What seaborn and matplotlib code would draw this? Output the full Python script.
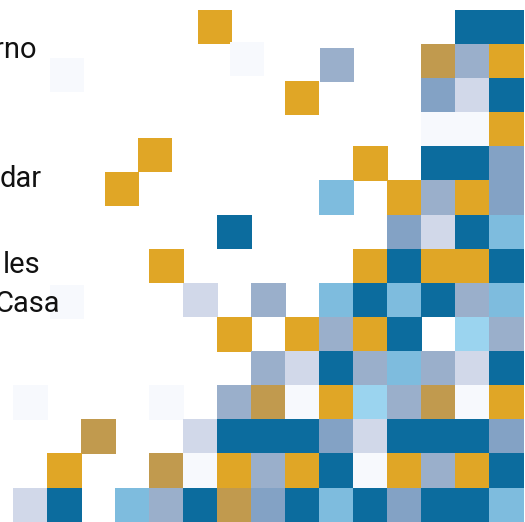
import pandas as pd
import matplotlib
matplotlib.use("Agg")
import matplotlib.pyplot as plt
import seaborn as sns

# colour of each category
palette = {
    "gold": "#e0a626",
    "dark": "#0c6c9e",
    "tan": "#c19a4e",
    "slate": "#9aafcb",
    "steel": "#83a2c5",
    "lav": "#d1d8e9",
    "faint": "#f7f9fd",
    "azure": "#7ebcde",
    "pale": "#9bd4ef",
}

# square positions (column, row), one line per row
cell_x = [5.93, 13.5, 14.5,
          1.57, 6.87, 9.51, 12.5, 13.5, 14.5,
          8.49, 12.5, 13.5, 14.5,
          12.5, 13.5, 14.5,
          4.16, 10.5, 12.5, 13.5, 14.5,
          3.19, 9.5, 11.5, 12.5, 13.5, 14.5,
          6.5, 11.5, 12.5, 13.5, 14.5,
          4.5, 10.5, 11.5, 12.5, 13.5, 14.5,
          1.57, 5.5, 7.5, 9.5, 10.5, 11.5, 12.5, 13.5, 14.5,
          6.5, 8.5, 9.5, 10.5, 11.5, 13.5, 14.5,
          7.5, 8.5, 9.5, 10.5, 11.5, 12.5, 13.5, 14.5,
          0.5, 4.5, 6.5, 7.5, 8.5, 9.5, 10.5, 11.5, 12.5, 13.5, 14.5,
          2.5, 5.5, 6.5, 7.5, 8.5, 9.5, 10.5, 11.5, 12.5, 13.5, 14.5,
          1.5, 4.5, 5.5, 6.5, 7.5, 8.5, 9.5, 10.5, 11.5, 12.5, 13.5, 14.5,
          0.5, 1.5, 3.5, 4.5, 5.5, 6.5, 7.5, 8.5, 9.5, 10.5, 11.5, 12.5, 13.5, 14.5]

cell_y = [0.5, 0.5, 0.5,
          1.91, 1.44, 1.61, 1.5, 1.5, 1.5,
          2.58, 2.5, 2.5, 2.5,
          3.5, 3.5, 3.5,
          4.25, 4.5, 4.5, 4.5, 4.5,
          5.25, 5.5, 5.5, 5.5, 5.5, 5.5,
          6.5, 6.5, 6.5, 6.5, 6.5,
          7.5, 7.5, 7.5, 7.5, 7.5, 7.5,
          8.56, 8.5, 8.5, 8.5, 8.5, 8.5, 8.5, 8.5, 8.5,
          9.5, 9.5, 9.5, 9.5, 9.5, 9.5, 9.5,
          10.5, 10.5, 10.5, 10.5, 10.5, 10.5, 10.5, 10.5,
          11.5, 11.5, 11.5, 11.5, 11.5, 11.5, 11.5, 11.5, 11.5, 11.5, 11.5,
          12.5, 12.5, 12.5, 12.5, 12.5, 12.5, 12.5, 12.5, 12.5, 12.5, 12.5,
          13.5, 13.5, 13.5, 13.5, 13.5, 13.5, 13.5, 13.5, 13.5, 13.5, 13.5, 13.5,
          14.5, 14.5, 14.5, 14.5, 14.5, 14.5, 14.5, 14.5, 14.5, 14.5, 14.5, 14.5, 14.5, 14.5]

cell_kind = ["gold", "dark", "dark",
             "faint", "faint", "slate", "tan", "slate", "gold",
             "gold", "steel", "lav", "dark",
             "faint", "faint", "gold",
             "gold", "gold", "dark", "dark", "steel",
             "gold", "azure", "gold", "slate", "gold", "steel",
             "dark", "steel", "lav", "dark", "azure",
             "gold", "gold", "dark", "gold", "gold", "dark",
             "faint", "lav", "slate", "azure", "dark", "azure", "dark", "slate", "azure",
             "gold", "gold", "slate", "gold", "dark", "pale", "slate",
             "slate", "lav", "dark", "slate", "azure", "slate", "lav", "dark",
             "faint", "faint", "slate", "tan", "faint", "gold", "pale", "slate", "tan", "faint", "gold",
             "tan", "lav", "dark", "dark", "dark", "steel", "lav", "dark", "dark", "dark", "steel",
             "gold", "tan", "faint", "gold", "slate", "gold", "dark", "faint", "gold", "slate", "gold", "dark",
             "lav", "dark", "azure", "slate", "dark", "tan", "steel", "dark", "azure", "dark", "steel", "dark", "dark", "azure"]

# row labels (only the visible ends of the words)
labels = ["rno", "dar", "les", "Casa"]
label_x = [36, 42, 40, 60]
label_base = [58, 187, 273, 312]

df = pd.DataFrame({"col": cell_x, "row": cell_y, "kind": cell_kind})

sns.set_theme(style="white")
plt.rcParams["font.family"] = ["Roboto", "DejaVu Sans"]

W, H = 525, 522
fig = plt.figure(figsize=(W / 100, H / 100), dpi=100)
ax = fig.add_axes([0, 0, 1, 1])

cell_px = 34.0
side_pt = cell_px * 72 / 100 + 0.4
sns.scatterplot(data=df, x="col", y="row", hue="kind", palette=palette,
                marker="s", s=side_pt ** 2, linewidth=0, legend=False, ax=ax)

x0, y0 = 13.5, 10.0
ax.set_xlim(-x0 / cell_px, (W - x0) / cell_px)
ax.set_ylim((H - y0) / 34.13, -y0 / 34.13)
ax.set_axis_off()

for txt, xp, yp in zip(labels, label_x, label_base):
    fig.text(xp / W, 1 - yp / H, txt, ha="right", va="baseline",
             fontsize=21, color="#111111")

fig.savefig("out.png", dpi=100)
